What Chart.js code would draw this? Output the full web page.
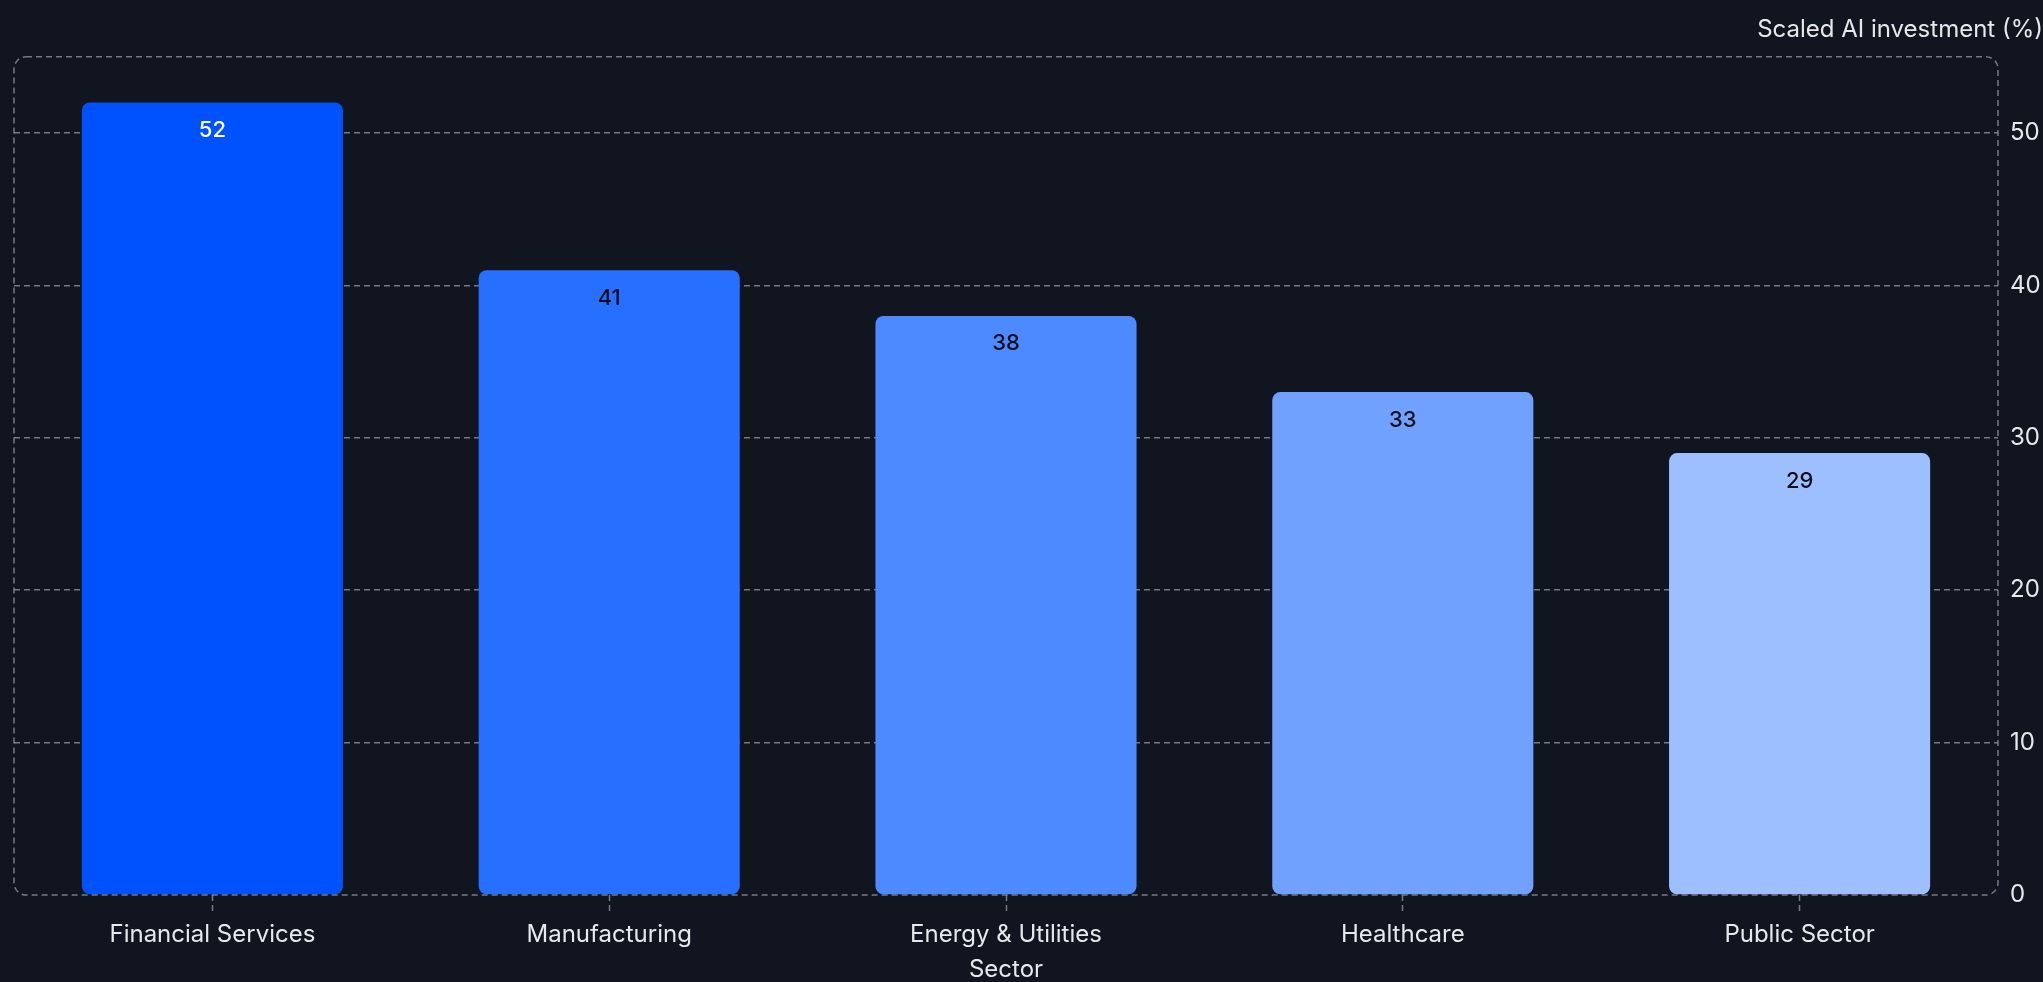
<!DOCTYPE html>
<html>
<head>
<meta charset="utf-8">
<script src="https://cdn.jsdelivr.net/npm/chart.js@4"></script>
<style>
  html, body { margin: 0; padding: 0; background: #10151f; }
  #wrap { width: 2043px; height: 982px; position: relative; }
  canvas { display: block; }
</style>
</head>
<body>
<div id="wrap"><canvas id="c" width="2043" height="982"></canvas></div>
<script>
const categories = ["Financial Services", "Manufacturing", "Energy & Utilities", "Healthcare", "Public Sector"];
const values = [52, 41, 38, 33, 29];
const barColors = ["#0052FF", "#276FFF", "#4D8AFF", "#70A1FF", "#9DBEFF"];
const labelColors = ["#FFFFFF", "#0B0F19", "#0B0F19", "#0B0F19", "#0B0F19"];
const yAxisTitle = "Scaled AI investment (%)";
const xAxisTitle = "Sector";

const FONT = "Inter, 'Noto Sans', sans-serif";
const gridColor = "rgba(150,155,165,0.75)";

const roundedBorder = {
  id: "roundedBorder",
  afterDatasetsDraw(chart) {
    const a = chart.chartArea;
    const ctx = chart.ctx;
    ctx.save();
    ctx.strokeStyle = gridColor;
    ctx.lineWidth = 1.5;
    ctx.setLineDash([6, 4]);
    ctx.beginPath();
    ctx.roundRect(a.left, a.top, a.right - a.left, a.bottom - a.top, 12);
    ctx.stroke();
    ctx.restore();
  }
};

const valueLabels = {
  id: "valueLabels",
  afterDatasetsDraw(chart) {
    const ctx = chart.ctx;
    const meta = chart.getDatasetMeta(0);
    ctx.save();
    ctx.font = "500 22px " + FONT;
    ctx.textAlign = "center";
    ctx.textBaseline = "middle";
    meta.data.forEach((bar, i) => {
      ctx.fillStyle = labelColors[i];
      ctx.fillText(String(values[i]), bar.x, bar.y + 28);
    });
    ctx.restore();
  }
};

new Chart(document.getElementById("c"), {
  type: "bar",
  data: {
    labels: categories,
    datasets: [{
      data: values,
      backgroundColor: barColors,
      borderRadius: 8,
      borderSkipped: false,
      categoryPercentage: 1.0,
      barPercentage: 0.658
    }]
  },
  options: {
    responsive: false,
    animation: false,
    devicePixelRatio: 1,
    layout: { padding: { left: 14, right: 0, top: 0, bottom: 0 } },
    plugins: {
      legend: { display: false },
      tooltip: { enabled: false },
      title: {
        display: true,
        text: yAxisTitle,
        align: "end",
        color: "#E6E8EC",
        font: { family: FONT, size: 24, weight: "normal" },
        padding: { top: 15, bottom: 13 }
      }
    },
    scales: {
      x: {
        offset: true,
        border: { display: false },
        grid: {
          offset: false,
          drawOnChartArea: false,
          drawTicks: true,
          tickLength: 16,
          tickColor: gridColor,
          tickWidth: 1.5,
          tickBorderDash: [6, 4]
        },
        ticks: {
          color: "#E6E8EC",
          font: { family: FONT, size: 24 },
          padding: 9,
          maxRotation: 0
        },
        title: {
          display: true,
          text: xAxisTitle,
          color: "#E6E8EC",
          font: { family: FONT, size: 24, lineHeight: 1.0 },
          padding: { top: 0, bottom: 0 }
        },
        afterFit(scale) { scale.height = 87; }
      },
      y: {
        position: "right",
        min: 0,
        max: 55,
        border: { display: false, dash: [6, 4] },
        grid: {
          drawTicks: false,
          lineWidth: 1.5,
          color: (ctx) => (ctx.tick && ctx.tick.value === 0) ? "rgba(0,0,0,0)" : gridColor
        },
        ticks: {
          stepSize: 10,
          includeBounds: false,
          color: "#E6E8EC",
          font: { family: FONT, size: 24 },
          padding: 12
        },
        afterFit(scale) { scale.width = 45; }
      }
    }
  },
  plugins: [roundedBorder, valueLabels]
});
</script>
</body>
</html>
